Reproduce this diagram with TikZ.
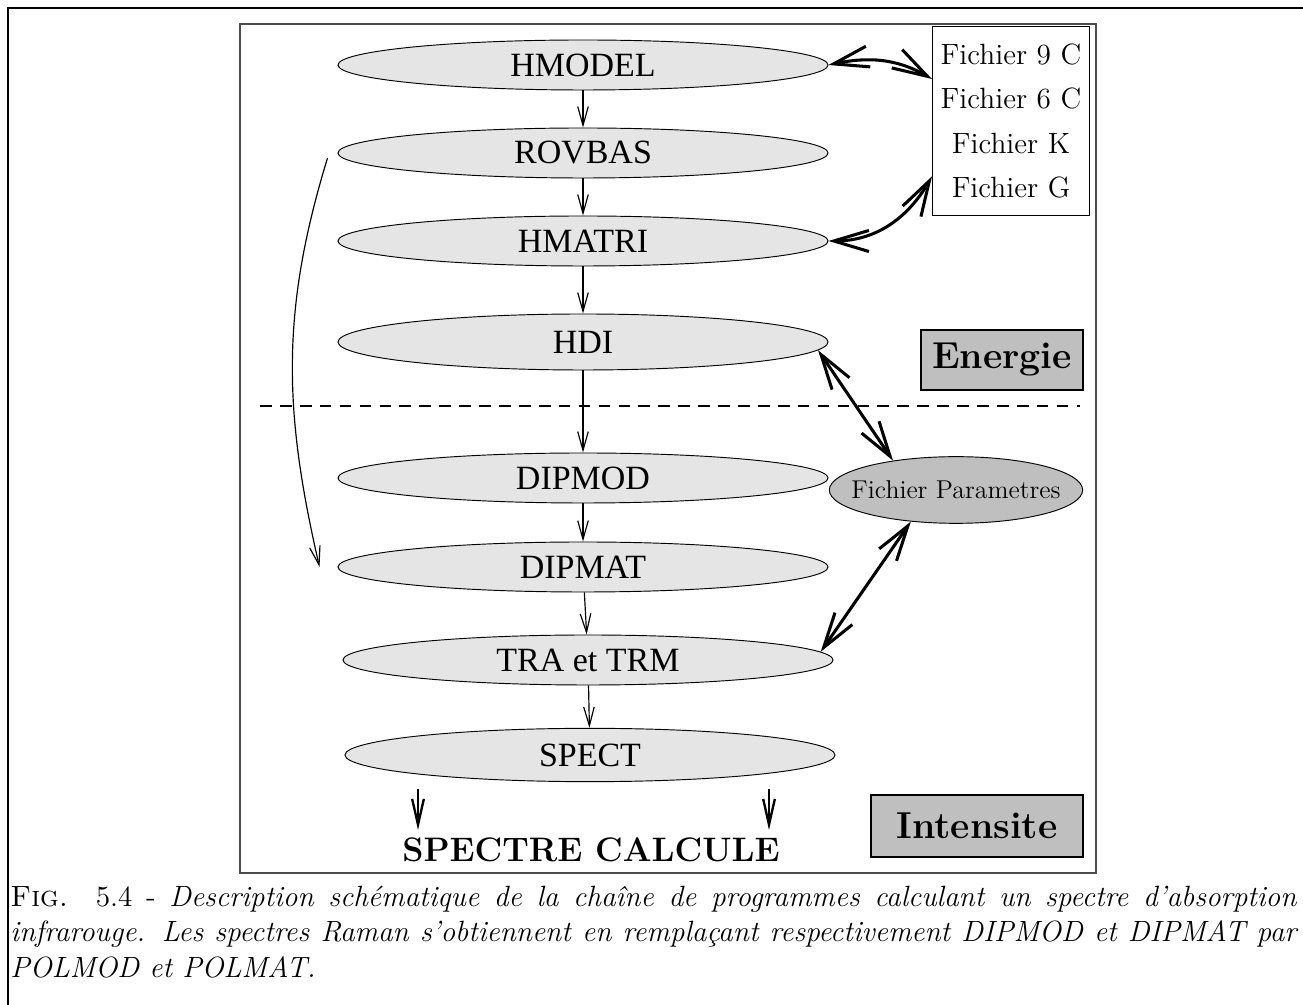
\documentclass[tikz,border=0pt]{standalone}
\usepackage{fontspec}
\newfontfamily\progfont{Liberation Serif}
\usetikzlibrary{arrows.meta, positioning, shapes.geometric}

\begin{document}
\begin{tikzpicture}[
  x=0.015cm, y=-0.015cm,
  prog/.style={draw, ellipse, fill=black!10, inner sep=0pt, minimum width=7.35cm,
               minimum height=0.75cm, font=\progfont\fontsize{14.5}{17}\selectfont},
  tag/.style={draw, line width=1pt, fill=black!25, inner sep=0pt,
              font=\bfseries\fontsize{16}{19}\selectfont},
  arr/.style={-{Straight Barb[length=8pt, width=4.5pt]}, line width=0.5pt},
  bigarr/.style={{Straight Barb[length=15pt, width=9pt]}-{Straight Barb[length=15pt, width=9pt]},
                 line width=1.3pt},
  outarr/.style={-{Straight Barb[length=11pt, width=5pt]}, line width=1pt}
]
  \useasboundingbox (0,0) rectangle (1303,1005);
  \draw[line width=1.1pt] (8,1005) -- (8,8) -- (1303,8);
  \draw[black!70, line width=0.6pt] (240,24) rectangle (1096,873);

  % chain of programs
  \node[prog] (hmodel) at (583,65) {HMODEL};
  \node[prog] (rovbas) at (583,153) {ROVBAS};
  \node[prog] (hmatri) at (583,241) {HMATRI};
  \node[prog, minimum height=0.84cm] (hdi) at (583,342) {HDI};
  \node[prog] (dipmod) at (583,478) {DIPMOD};
  \node[prog] (dipmat) at (583,567) {DIPMAT};
  \node[prog] (tra) at (588,660) {TRA et TRM};
  \node[prog, minimum height=0.8cm] (spect) at (590,755) {SPECT};

  \node[draw, minimum width=2.355cm, minimum height=2.835cm, align=center,
        font=\fontsize{12.5}{19}\selectfont] (files) at (1011,121)
    {Fichier 9 C\\Fichier 6 C\\Fichier K\\Fichier G};
  \node[draw, ellipse, fill=black!25, minimum width=3.8cm, minimum height=1cm,
        inner xsep=-0.3cm, inner ysep=0pt, font=\fontsize{11}{13}\selectfont]
    (params) at (956,490) {Fichier Parametres};

  \node[tag, minimum width=2.43cm, minimum height=0.9cm] (energie) at (1002,360) {Energie};
  \node[tag, minimum width=3.18cm, minimum height=0.93cm] (intensite) at (977,826) {Intensite};
  \node[font=\bfseries\fontsize{14.5}{17}\selectfont] (result) at (591,850) {SPECTRE CALCULE};

  \draw[dash pattern=on 5pt off 3.5pt, line width=0.5pt] (260,406) -- (1080,406);

  \draw[arr] (hmodel) -- (rovbas);
  \draw[arr] (rovbas) -- (hmatri);
  \draw[arr] (hmatri) -- (hdi);
  \draw[arr] (hdi) -- (dipmod);
  \draw[arr] (dipmod) -- (dipmat);
  \draw[arr] (dipmat) -- (tra);
  \draw[arr] (tra) -- (spect);
  \draw[arr] ([xshift=-0.15cm, yshift=-0.075cm]rovbas.west) to[out=-107, in=103]
    ([xshift=-0.27cm]dipmat.west);

  \draw[bigarr] (hmodel.east) to[out=12, in=150] (files.152);
  \draw[bigarr] (hmatri.east) to[out=0, in=240] (files.215);
  \draw[bigarr] (hdi.-2) -- (params.155);
  \draw[bigarr] (tra.2) -- (params.215);

  \coordinate (toL) at (418,830);
  \coordinate (toR) at (769,830);
  \draw[outarr] ([yshift=-0.1cm]spect.south -| toL) -- (toL);
  \draw[outarr] ([yshift=-0.1cm]spect.south -| toR) -- (toR);

  \node[anchor=north west, text width=19.29cm, align=justify, inner sep=0pt,
        font=\fontsize{12.5}{15}\selectfont] (caption) at (10,886)
    {\textsc{Fig.}~~5.4 - \textit{Description schématique de la chaîne de programmes
     calculant un spectre d'absorption\linebreak infrarouge. Les spectres Raman
     s'obtiennent en remplaçant respectivement DIPMOD et DIPMAT par\linebreak
     POLMOD et POLMAT.}};
\end{tikzpicture}
\end{document}
